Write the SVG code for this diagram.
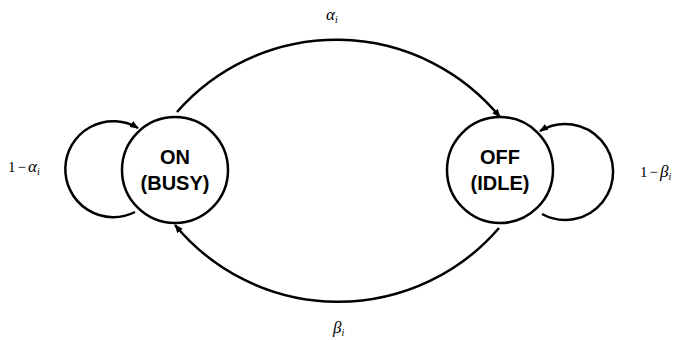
<svg xmlns="http://www.w3.org/2000/svg" width="675" height="340" viewBox="0 0 675 340">
<style>
.node{fill:#fff;stroke:#000;stroke-width:2.5}
.nl{font-family:"Liberation Sans",Arial,sans-serif;font-weight:bold;font-size:20px;text-anchor:middle}
.edge{fill:none;stroke:#000;stroke-width:2.5;marker-end:url(#ah)}
.m{font-family:"Liberation Serif","Times New Roman",serif;font-size:15px}
.g{font-style:italic;font-size:17px}
.s{font-style:italic;font-size:10px}
</style>
<defs>
<marker id="ah" viewBox="0 0 10 10" refX="9" refY="5" markerWidth="3.5" markerHeight="3.5" orient="auto" markerUnits="strokeWidth">
<path d="M0,1 L10,5 L0,9 z" fill="#000"/>
</marker>
</defs>
<rect width="675" height="340" fill="#fff"/>
<g id="connectors">
<path class="edge" d="M177,112 A212,212 0 0 1 500,117"/>
<path class="edge" d="M499,228 A212,212 0 0 1 175,225"/>
<path class="edge" d="M135,212 A48,48 0 1 1 138,128"/>
<path class="edge" d="M542,214 A48,48 0 1 0 540,131"/>
</g>
<g id="on">
<circle class="node" cx="175" cy="170" r="53"/>
<text class="nl" x="175" y="164">ON</text>
<text class="nl" x="175" y="190">(BUSY)</text>
</g>
<g id="off">
<circle class="node" cx="500" cy="170" r="53"/>
<text class="nl" x="500" y="164">OFF</text>
<text class="nl" x="500" y="190">(IDLE)</text>
</g>
<g id="labels">
<text class="m" x="8" y="172">1<tspan dx="2">−</tspan><tspan class="g" dx="2">α</tspan><tspan class="s" dy="3">i</tspan></text>
<text class="m" x="326" y="20"><tspan class="g">α</tspan><tspan class="s" dy="3">i</tspan></text>
<text class="m" x="333" y="333"><tspan class="g">β</tspan><tspan class="s" dy="3">i</tspan></text>
<text class="m" x="640" y="177">1<tspan dx="2">−</tspan><tspan class="g" dx="2">β</tspan><tspan class="s" dy="3">i</tspan></text>
</g>
</svg>
